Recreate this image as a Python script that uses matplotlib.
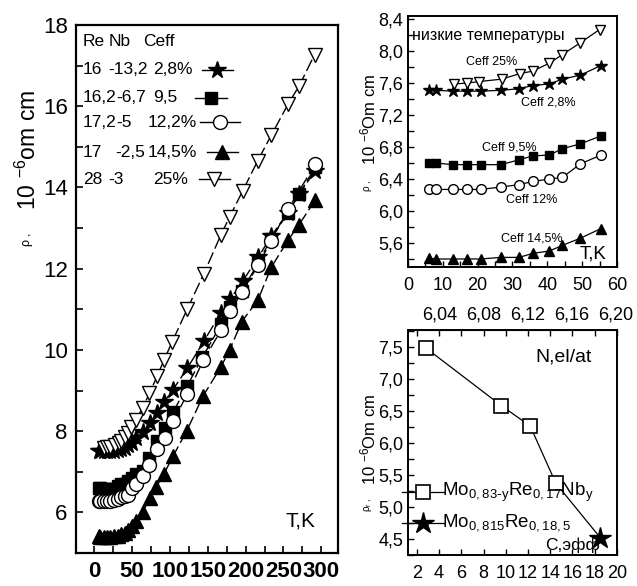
import numpy as np
import matplotlib.pyplot as plt
from matplotlib.ticker import MultipleLocator, FuncFormatter

plt.rcParams['font.family'] = ['Liberation Sans', 'DejaVu Sans']
plt.rcParams['mathtext.default'] = 'regular'

# low temperature runs (T, K ; rho, 10^-6 Ohm cm)
t_low = [5.9, 8.1, 13.0, 16.8, 20.9, 26.6, 31.9, 35.8, 40.6, 44.3, 49.5, 55.4]
rho28_low = [7.51, 7.51, 7.50, 7.50, 7.50, 7.51, 7.53, 7.57, 7.59, 7.65, 7.70, 7.82]
rho95_low = [6.60, 6.60, 6.58, 6.58, 6.58, 6.58, 6.64, 6.69, 6.70, 6.78, 6.84, 6.94]
rho12_low = [6.27, 6.27, 6.27, 6.27, 6.27, 6.30, 6.33, 6.37, 6.40, 6.42, 6.59, 6.70]
rho145_low = [5.41, 5.40, 5.40, 5.40, 5.40, 5.42, 5.42, 5.47, 5.50, 5.57, 5.66, 5.78]
t25_low = [13.1, 16.8, 20.5, 26.9, 32.2, 35.8, 40.6, 44.1, 49.3, 55.0]
rho25_low = [7.59, 7.60, 7.62, 7.65, 7.72, 7.75, 7.85, 7.95, 8.10, 8.27]

# higher temperature part
t28_hi = [65, 74, 83, 92, 104, 123, 145, 167, 180, 196, 217, 234, 256, 271, 292]
rho28_hi = [7.97, 8.19, 8.44, 8.71, 9.02, 9.55, 10.22, 10.90, 11.26, 11.69, 12.29, 12.81, 13.38, 13.85, 14.41]
t95_hi = [64, 73, 83, 93, 104, 123, 143, 168, 180, 195, 217, 233, 256, 271, 292]
rho95_hi = [7.02, 7.35, 7.76, 8.09, 8.46, 9.12, 9.82, 10.64, 11.05, 11.45, 12.15, 12.72, 13.38, 13.85, 14.50]
t12_hi = [64, 73, 83, 93, 104, 123, 144, 168, 180, 195, 217, 233, 256, 292]
rho12_hi = [6.90, 7.16, 7.56, 7.84, 8.24, 8.91, 9.74, 10.50, 10.96, 11.42, 12.10, 12.67, 13.46, 14.58]
t145_hi = [64, 74, 82, 92, 104, 122, 144, 167, 179, 195, 216, 234, 256, 270, 292]
rho145_hi = [6.01, 6.36, 6.63, 6.94, 7.38, 8.00, 8.87, 9.57, 10.00, 10.70, 11.22, 12.04, 12.70, 13.07, 13.69]
t25_hi = [64, 73, 83, 92, 103, 123, 145, 167, 179, 196, 216, 234, 256, 271, 291]
rho25_hi = [8.58, 8.93, 9.35, 9.74, 10.20, 11.01, 11.88, 12.82, 13.28, 13.91, 14.66, 15.29, 16.05, 16.51, 17.27]

# residual resistivity vs effective concentration
c_nb = [2.8, 9.6, 12.2, 14.5]
rho0_nb = [7.48, 6.58, 6.26, 5.37]
c_re = [18.5]
rho0_re = [4.52]

legend_rows = [('16', '-13,2', '2,8%'), ('16,2', '-6,7', '9,5'), ('17,2', '-5', '12,2%'),
               ('17', '-2,5', '14,5%'), ('28', '-3', '25%')]

styles = [
    dict(marker='*', color='k', mfc='k', ms=13),
    dict(marker='s', color='k', mfc='k', ms=8),
    dict(marker='o', color='k', mfc='white', ms=10),
    dict(marker='^', color='k', mfc='k', ms=10),
    dict(marker='v', color='k', mfc='white', ms=10),
]


def comma_fmt(nd):
    return FuncFormatter(lambda v, p: ('%.*f' % (nd, v)).replace('.', ','))


fig = plt.figure(figsize=(6.37, 5.86), dpi=100)

# ---- left: full temperature range
ax1 = fig.add_axes([0.1193, 0.0563, 0.4113, 0.9010])
series = [
    (t_low, rho28_low, t28_hi, rho28_hi),
    (t_low, rho95_low, t95_hi, rho95_hi),
    (t_low, rho12_low, t12_hi, rho12_hi),
    (t_low, rho145_low, t145_hi, rho145_hi),
    (t25_low, rho25_low, t25_hi, rho25_hi),
]
for (tl, rl, th, rh), st in zip(series, styles):
    t = np.concatenate([tl, th])
    r = np.concatenate([rl, rh])
    ax1.plot(t, r, ls=(0, (9, 3)), lw=1.0, mew=1.0, **st)
ax1.set_xlim(-24, 322)
ax1.set_ylim(5, 18)
ax1.xaxis.set_major_locator(MultipleLocator(50))
ax1.xaxis.set_minor_locator(MultipleLocator(25))
ax1.yaxis.set_major_locator(MultipleLocator(2))
ax1.yaxis.set_minor_locator(MultipleLocator(1))
ax1.tick_params(which='both', direction='in', length=5, width=1.2)
ax1.tick_params(axis='y', labelsize=16, pad=6)
ax1.tick_params(axis='x', labelsize=16, pad=6)
for lb in ax1.get_xticklabels():
    lb.set_fontweight('bold')
for s in ax1.spines.values():
    s.set_linewidth(1.6)
ax1.text(0.80, 0.05, 'T,K', transform=ax1.transAxes, fontsize=15)

fs_leg = 12.5
hdr_y = 0.968
row_y = [0.915, 0.862, 0.816, 0.759, 0.708]
ax1.text(0.027, hdr_y, 'Re', transform=ax1.transAxes, fontsize=fs_leg, va='center')
ax1.text(0.126, hdr_y, 'Nb', transform=ax1.transAxes, fontsize=fs_leg, va='center')
ax1.text(0.256, hdr_y, 'Ceff', transform=ax1.transAxes, fontsize=fs_leg, va='center')
col2 = [0.122, 0.154, 0.154, 0.150, 0.122]
col3 = [0.294, 0.294, 0.272, 0.272, 0.294]
seg = [(0.481, 0.599), (0.454, 0.576), (0.473, 0.626), (0.500, 0.618), (0.469, 0.588)]
for i, (a, b, c) in enumerate(legend_rows):
    y = row_y[i]
    ax1.text(0.027, y, a, transform=ax1.transAxes, fontsize=fs_leg, va='center')
    ax1.text(col2[i], y, b, transform=ax1.transAxes, fontsize=fs_leg, va='center')
    ax1.text(col3[i], y, c, transform=ax1.transAxes, fontsize=fs_leg, va='center')
    x0, x1 = seg[i]
    ax1.plot([x0, x1], [y, y], transform=ax1.transAxes, color='k', lw=1.0)
    ax1.plot([(x0 + x1) / 2], [y], transform=ax1.transAxes, ls='none', mew=1.0, **styles[i])

fig.text(0.044, 1 - 247 / 586, r'$\rho$ ,', rotation=90, fontsize=9, ha='center', va='bottom')
fig.text(0.044, 1 - 210 / 586, r'10 $^{-6}$om cm', rotation=90, fontsize=16.5, ha='center', va='bottom')

# ---- top right: low temperatures
ax2 = fig.add_axes([0.6405, 0.5444, 0.3280, 0.4283])
lows = [(t_low, rho28_low), (t_low, rho95_low), (t_low, rho12_low), (t_low, rho145_low), (t25_low, rho25_low)]
for (t, r), st in zip(lows, styles):
    st2 = dict(st)
    st2['ms'] = st['ms'] * 0.7
    ax2.plot(t, r, ls='-', lw=0.9, mew=1.0, **st2)
ax2.set_xlim(0, 60)
ax2.set_ylim(5.3, 8.44)
ax2.xaxis.set_major_locator(MultipleLocator(10))
ax2.xaxis.set_minor_locator(MultipleLocator(5))
ax2.yaxis.set_major_locator(MultipleLocator(0.4))
ax2.yaxis.set_minor_locator(MultipleLocator(0.2))
ax2.yaxis.set_major_formatter(comma_fmt(1))
ax2.tick_params(which='both', direction='in', length=4, width=1.0, labelsize=13)
ax2.tick_params(axis='x', pad=7)
for s in ax2.spines.values():
    s.set_linewidth(1.4)
ax2.text(0.02, 0.924, 'низкие температуры', transform=ax2.transAxes, fontsize=11.5, va='center')
ax2.text(23.9, 7.87, 'Ceff 25%', fontsize=9, ha='center', va='center')
ax2.text(40.3, 7.36, 'Ceff 2,8%', fontsize=9, ha='center', va='center')
ax2.text(29.1, 6.79, 'Ceff 9,5%', fontsize=9, ha='center', va='center')
ax2.text(35.4, 6.14, 'Ceff 12%', fontsize=9, ha='center', va='center')
ax2.text(35.5, 5.66, 'Ceff 14,5%', fontsize=9, ha='center', va='center')
ax2.text(0.885, 0.05, 'T,K', transform=ax2.transAxes, fontsize=13.5, ha='center', va='center')
fig.text(0.578, 1 - 192 / 586, r'$\rho$ ,', rotation=90, fontsize=7, ha='center', va='bottom')
fig.text(0.578, 1 - 165 / 586, r'10 $^{-6}$Om cm', rotation=90, fontsize=12, ha='center', va='bottom')

# ---- bottom right: residual resistivity
ax3 = fig.add_axes([0.6405, 0.0529, 0.3280, 0.3840])
ax3.plot(c_nb + c_re, rho0_nb + rho0_re, color='k', lw=0.9)
ax3.plot(c_nb, rho0_nb, ls='none', marker='s', ms=10, mfc='white', mec='k', mew=1.2)
ax3.plot(c_re, rho0_re, ls='none', marker='*', ms=16, color='k')
ax3.set_xlim(1.2, 20.0)
ax3.set_ylim(4.25, 7.76)
ax3.xaxis.set_major_locator(MultipleLocator(2))
ax3.yaxis.set_major_locator(MultipleLocator(0.5))
ax3.yaxis.set_minor_locator(MultipleLocator(0.25))
ax3.yaxis.set_major_formatter(comma_fmt(1))
ax3.tick_params(which='both', direction='in', length=4, width=1.0, labelsize=13, top=True)
ax3.tick_params(axis='x', pad=7)
for s in ax3.spines.values():
    s.set_linewidth(1.4)


def c2n(c):
    return 6.04 + (np.asarray(c) - 4.08) * (0.16 / 15.82)


def n2c(n):
    return 4.08 + (np.asarray(n) - 6.04) / (0.16 / 15.82)


sec = ax3.secondary_xaxis('top', functions=(c2n, n2c))
sec.set_xticks([6.04, 6.08, 6.12, 6.16, 6.20])
sec.xaxis.set_major_formatter(comma_fmt(2))
sec.tick_params(length=0, labelsize=13, pad=5)

ax3.text(0.745, 0.88, 'N,el/at', transform=ax3.transAxes, fontsize=14, ha='center', va='center')
ax3.text(0.79, 0.044, 'С,эфф', transform=ax3.transAxes, fontsize=12.5, ha='center', va='center')

# series key, hanging past the left spine
for yk, mk, txt in [(0.280, 's', r'Mo$_{0,83\text{-}y}$Re$_{0,17}$Nb$_{y}$'),
                    (0.142, '*', r'Mo$_{0,815}$Re$_{0,18,5}$')]:
    ax3.plot([-0.03, 0.17], [yk, yk], transform=ax3.transAxes, color='k', lw=0.9, clip_on=False)
    if mk == 's':
        ax3.plot([0.072], [yk], transform=ax3.transAxes, marker='s', ms=10, mfc='white',
                 mec='k', mew=1.2, clip_on=False)
    else:
        ax3.plot([0.072], [yk], transform=ax3.transAxes, marker='*', ms=16, color='k', clip_on=False)
    ax3.text(0.165, yk, txt, transform=ax3.transAxes, fontsize=13.5, va='center')

fig.text(0.578, 1 - 512 / 586, r'$\rho_r$ ,', rotation=90, fontsize=7, ha='center', va='bottom')
fig.text(0.578, 1 - 485 / 586, r'10 $^{-6}$Om cm', rotation=90, fontsize=12, ha='center', va='bottom')

fig.savefig('out.png', dpi=100)
